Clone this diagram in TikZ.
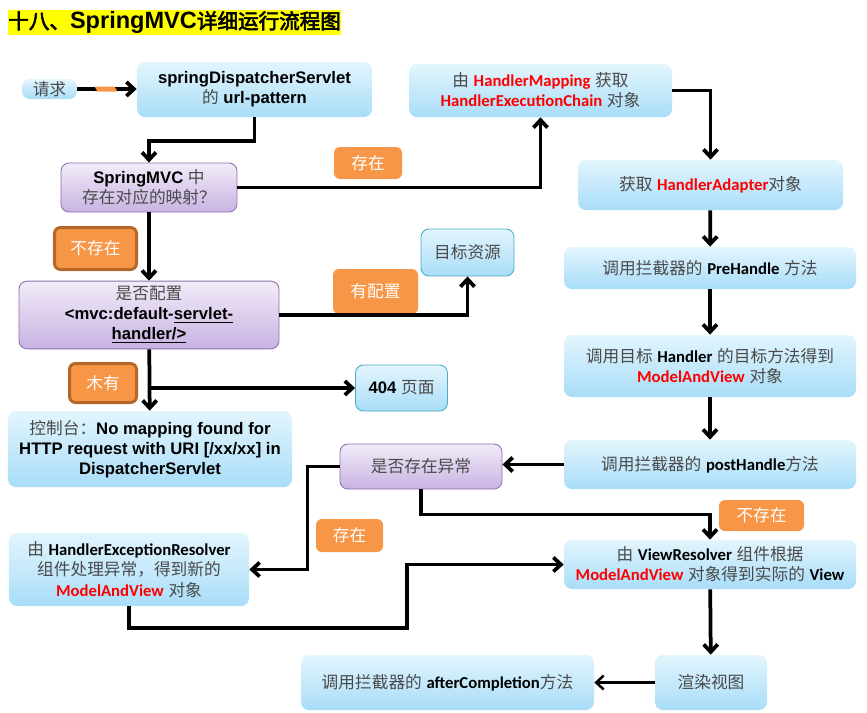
\documentclass[tikz,border=0pt]{standalone}
\usepackage{fontspec}
\setmainfont{Liberation Sans}
\newfontfamily\zhfont[AutoFakeBold=3]{Noto Sans CJK SC}
\newfontfamily\calfont{Carlito}
\usetikzlibrary{arrows.meta}

\definecolor{boxtop}{HTML}{E3F5FD}
\definecolor{boxbottom}{HTML}{A8DDF8}
\definecolor{boxline}{HTML}{4BACC6}
\definecolor{purpletop}{HTML}{F2EBF8}
\definecolor{purplebottom}{HTML}{C8B3E2}
\definecolor{purpleline}{HTML}{8E72B0}
\definecolor{tagorange}{HTML}{F79646}
\definecolor{tagline}{HTML}{B5672A}
\definecolor{zhgray}{HTML}{4A4A4A}
\definecolor{namered}{HTML}{FF0000}
\definecolor{titleyellow}{HTML}{FFFF00}

\newcommand\zh[1]{{\zhfont\color{zhgray}#1}}
\newcommand\cb[1]{{\calfont\bfseries #1}}
\newcommand\cred[1]{{\calfont\bfseries\color{namered}#1}}

\begin{document}
\begin{tikzpicture}[
    x=0.2mm, y=-0.2mm,
    % Styles
    blue-box/.style={rounded corners=1.6mm, top color=boxtop, bottom color=boxbottom, align=center, inner sep=1mm, font=\fontsize{9.5}{11.5}\selectfont},
    framed-box/.style={blue-box, draw=boxline, line width=0.5pt},
    purple-box/.style={rounded corners=1.6mm, top color=purpletop, bottom color=purplebottom, draw=purpleline, line width=0.5pt, align=center, inner sep=1mm, font=\fontsize{9.5}{11.5}\selectfont},
    orange-tag/.style={rounded corners=1.2mm, fill=tagorange, text=white, inner sep=0pt, font=\zhfont\fontsize{9.5}{11.5}\selectfont},
    dark-tag/.style={orange-tag, draw=tagline, line width=0.6mm},
    flow-arrow/.style={-{Straight Barb[length=1.5mm, width=2.8mm]}, line width=0.75mm, black},
    req-mark/.style={fill=tagorange, minimum width=4mm, minimum height=1mm, inner sep=0pt, xslant=-0.6},
]
\useasboundingbox (0,0) rectangle (867,712);

% Title
\node[fill=titleyellow, anchor=west, inner xsep=0pt, inner ysep=1pt, minimum height=5mm, font=\bfseries\fontsize{13.4}{15}\selectfont] (title) at (8,22.5)
    {{\zhfont\fontsize{11.7}{15}\selectfont 十八、}SpringMVC{\zhfont\fontsize{11.7}{15}\selectfont 详细运行流程图}};

% Top row
\node[blue-box, minimum width=11mm, minimum height=4mm, inner sep=0pt] (request) at (49.5,89) {\zh{请求}};
\node[blue-box, minimum width=47mm, minimum height=11mm] (dispatcher) at (254.5,89.5)
    {\textbf{springDispatcherServlet}\\\zh{的} \textbf{url-pattern}};
\node[blue-box, minimum width=52.6mm, minimum height=10.6mm] (mapping) at (540.5,90.5)
    {\zh{由} \cred{HandlerMapping} \zh{获取}\\\cred{HandlerExecutionChain} \zh{对象}};

% Left column
\node[purple-box, minimum width=35.2mm, minimum height=9.8mm] (lookup) at (149,187.5)
    {\textbf{SpringMVC} \zh{中}\\\zh{存在对应的映射？}};
\node[purple-box, minimum width=52mm, minimum height=12.8mm] (config) at (149,315)
    {\zh{是否配置}\\\textbf{<mvc:default-\underline{servlet-}}\\\textbf{\underline{handler/>}}};
\node[blue-box, minimum width=56.8mm, minimum height=15.2mm] (console) at (150,449)
    {\zh{控制台：}\textbf{No mapping found for}\\\textbf{HTTP request with URI [/xx/xx] in}\\\textbf{DispatcherServlet}};
\node[blue-box, minimum width=48mm, minimum height=14.6mm] (resolver) at (129,569.5)
    {\zh{由} \cb{HandlerExceptionResolver}\\\zh{组件处理异常，得到新的}\\\cred{ModelAndView} \zh{对象}};

% Middle
\node[framed-box, minimum width=18.6mm, minimum height=9.4mm] (target) at (467.5,252.5) {\zh{目标资源}};
\node[framed-box, minimum width=18.4mm, minimum height=9.2mm] (page404) at (401.5,388) {\textbf{404} \zh{页面}};
\node[purple-box, minimum width=32.4mm, minimum height=9mm] (exception) at (421,466.5) {\zh{是否存在异常}};
\node[blue-box, minimum width=58.6mm, minimum height=11mm] (after) at (447.5,682.5)
    {\zh{调用拦截器的} \cb{afterCompletion}\zh{方法}};

% Right column
\node[blue-box, minimum width=53mm, minimum height=10mm] (adapter) at (710.5,185)
    {\zh{获取} \cred{HandlerAdapter}\zh{对象}};
\node[blue-box, minimum width=58.4mm, minimum height=8.4mm] (prehandle) at (710,268)
    {\zh{调用拦截器的} \cb{PreHandle} \zh{方法}};
\node[blue-box, minimum width=58.4mm, minimum height=12.4mm] (handler) at (710,366)
    {\zh{调用目标} \cb{Handler} \zh{的目标方法得到}\\\cred{ModelAndView} \zh{对象}};
\node[blue-box, minimum width=58.4mm, minimum height=9.8mm] (posthandle) at (710,464.5)
    {\zh{调用拦截器的} \cb{postHandle}\zh{方法}};
\node[blue-box, minimum width=58.4mm, minimum height=9.8mm] (viewresolver) at (710,564.5)
    {\zh{由} \cb{ViewResolver} \zh{组件根据}\\\cred{ModelAndView} \zh{对象得到实际的} \cb{View}};
\node[blue-box, minimum width=22.4mm, minimum height=11mm] (render) at (711,682.5) {\zh{渲染视图}};

% Branch tags
\node[orange-tag, minimum width=13.6mm, minimum height=6.4mm] (tag-exist) at (368,163) {存在};
\node[dark-tag, minimum width=16.4mm, minimum height=8.4mm] (tag-absent) at (95.5,248.5) {不存在};
\node[orange-tag, minimum width=17mm, minimum height=9mm] (tag-config) at (375.5,291.5) {有配置};
\node[dark-tag, minimum width=13.4mm, minimum height=7.8mm] (tag-none) at (103,383) {木有};
\node[orange-tag, minimum width=13.4mm, minimum height=6.6mm] (tag-exist2) at (349.5,535.5) {存在};
\node[orange-tag, minimum width=17mm, minimum height=6.2mm] (tag-absent2) at (761.5,515.5) {不存在};

% Connectors
\draw[flow-arrow] (request.east) -- (request.east -| dispatcher.west);
\node[req-mark] (reqmark) at (106,89) {};
\draw[flow-arrow] (dispatcher.south) -- ++(0,24) -| (lookup.north);
\draw[flow-arrow] (lookup.east) -| (mapping.south);
\draw[flow-arrow] (mapping.east) -| (adapter.north);
\draw[flow-arrow] (lookup) -- (config);
\draw[flow-arrow] (config.east) -| (target.south);
\draw[flow-arrow] (config) -- (console);
\draw[flow-arrow] (config.south |- page404.west) -- (page404.west);
\draw[flow-arrow] (adapter) -- (prehandle);
\draw[flow-arrow] (prehandle) -- (handler);
\draw[flow-arrow] (handler) -- (posthandle);
\draw[flow-arrow] (posthandle.west) -- (posthandle.west -| exception.east);
\draw[flow-arrow] (exception.west) -- ++(-32,0) |- (resolver.east);
\draw[flow-arrow] (exception.south) -- ++(0,25) -| (viewresolver.north);
\coordinate (detour) at (407,628);
\draw[flow-arrow] (resolver.south) |- (detour) |- (viewresolver.west);
\draw[flow-arrow] (viewresolver) -- (render);
\draw[flow-arrow, line width=0.5mm] (render) -- (after);

\end{tikzpicture}
\end{document}
